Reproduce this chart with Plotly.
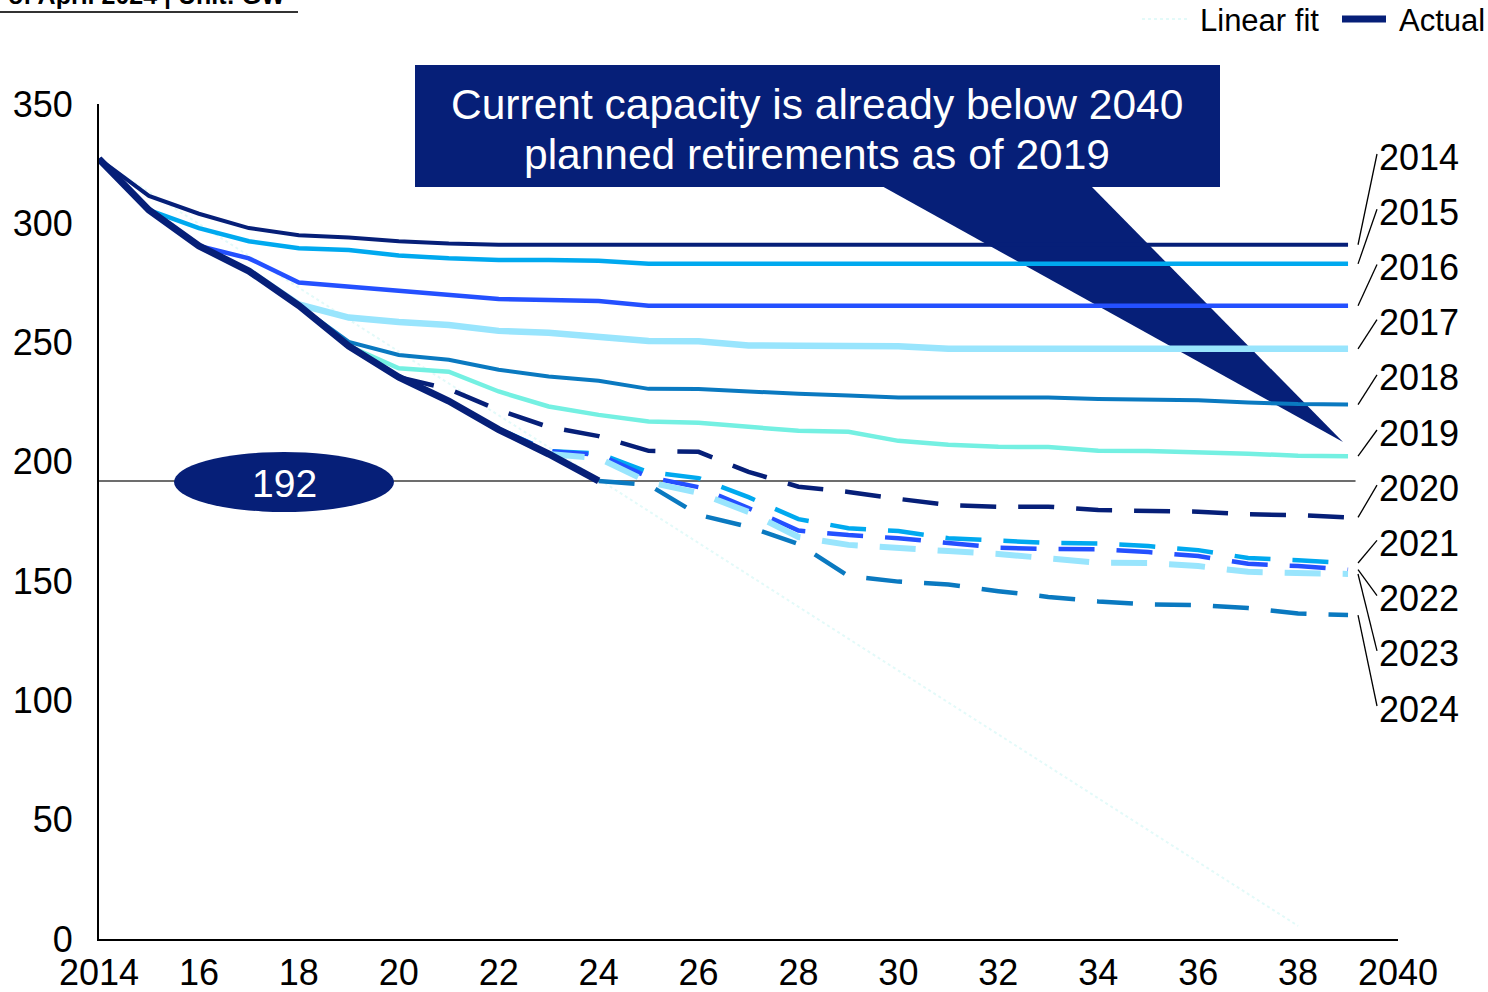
import plotly.graph_objects as go

# ---------------- data ----------------
actual_years = list(range(2014, 2025))
actual = [327, 305.5, 290.5, 280, 265.5, 248.5, 235.5, 225.5, 213.5, 203.3, 192]

fit_years = [2014, 2038]
fit_values = [326.5, 5.5]

plan_2014 = [327, 311.5, 304, 298, 295, 294, 292.5, 291.5, 291,
             291, 291, 291, 291, 291, 291, 291, 291, 291, 291, 291, 291, 291, 291, 291, 291, 291]
plan_2015 = [305.5, 298, 292.5, 289.5, 288.8, 286.5, 285.3, 284.6, 284.6, 284.3, 283,
             283, 283, 283, 283, 283, 283, 283, 283, 283, 283, 283, 283, 283, 283]
plan_2016 = [290.5, 285.3, 275.2, 273.4, 271.5, 270, 268.3, 267.8, 267.4, 265.4,
             265.4, 265.4, 265.4, 265.4, 265.4, 265.4, 265.4, 265.4, 265.4, 265.4, 265.4, 265.4, 265.4, 265.4]
plan_2017 = [280, 266, 260.5, 258.6, 257.4, 254.9, 254.1, 252.7, 250.7, 250.6, 248.8, 248.7, 248.6, 248.5,
             247.4, 247.4, 247.4, 247.4, 247.4, 247.4, 247.4, 247.4, 247.4]
plan_2018 = [265.5, 250.3, 244.8, 242.8, 238.6, 235.8, 234, 230.6, 230.5, 229.4, 228.5, 227.8,
             227, 227, 227, 227, 226.3, 226.2, 225.8, 224.9, 224.2, 224]
plan_2019 = [248.5, 239.2, 237.8, 229.5, 223.2, 219.7, 216.9, 216.4, 214.7, 213, 212.6, 208.8,
             207.2, 206.3, 206.2, 204.7, 204.6, 204.2, 203.4, 202.6, 202.4]
plan_2020 = [235.5, 230.5, 221.7, 214.6, 210.8, 204.6, 204.2, 195.8, 189.6, 187.4, 184.5, 181.9,
             181.2, 181.2, 179.8, 179.4, 179.1, 178, 177.7, 176.7]
plan_2021 = [225.5, 213.8, 204.5, 203.5, 195.7, 193.2, 185.2, 176, 172.2, 171, 168, 166.8,
             166, 165.8, 164.7, 163, 159.7, 158.8, 157.6]
plan_2022 = [213.5, 204.5, 203, 193.6, 189.4, 180.6, 171.2, 169.3, 168, 166, 164, 163.5,
             163.4, 162.2, 160.5, 157.3, 156.3, 154.8]
plan_2023 = [203.3, 201.6, 191.5, 187, 179, 168.5, 165.2, 163.6, 162.6, 161.4, 159.8, 157.7,
             157.6, 156.3, 153.9, 153.4, 153]
plan_2024 = [192, 190.4, 177.8, 172.8, 165.6, 152.1, 149.8, 148.6, 145.8, 143.4, 141.5, 140.2,
             140, 138.7, 136.4, 135.8]

plan_years = [2014, 2015, 2016, 2017, 2018, 2019, 2020, 2021, 2022, 2023, 2024]
plans = [plan_2014, plan_2015, plan_2016, plan_2017, plan_2018, plan_2019,
         plan_2020, plan_2021, plan_2022, plan_2023, plan_2024]
last_year = 2039

threshold = 192

x_tickvals = list(range(2014, 2041, 2))
x_ticktext = ["2014", "16", "18", "20", "22", "24", "26", "28", "30", "32", "34", "36", "38", "2040"]
y_tickvals = [0, 50, 100, 150, 200, 250, 300, 350]

# ---------------- styling ----------------
NAVY = "#061f78"
LIGHT = "#00a9ef"
BRIGHT = "#2450ff"
PALE = "#99e5fd"
MEDIUM = "#0a79c0"
AQUA = "#74f0e2"
FIT = "#e3faf9"

palette = [NAVY, LIGHT, BRIGHT, PALE, MEDIUM, AQUA]
widths = [4, 4.5, 4.5, 6.5, 4, 4.5]
FONT = "Arial, 'Liberation Sans', sans-serif"

W, H = 1488, 992
L, R, T, B = 99, 90, 104, 53
PW, PH = W - L - R, H - T - B
X0, X1 = 2014, 2040
Y0, Y1 = 0, 350


def px(x):
    return (x - L) / PW


def py(y):
    return (H - B - y) / PH


def dx(v):
    return (v - X0) / (X1 - X0)


def dy(v):
    return (v - Y0) / (Y1 - Y0)


fig = go.Figure()

# trend of the actual series, drawn underneath everything else
fig.add_trace(go.Scatter(
    x=fit_years, y=fit_values, mode="lines", name="Linear fit", showlegend=False,
    line=dict(color=FIT, width=2, dash="dot"), hoverinfo="skip"))

# planned-capacity vintages
for i, (start, vals) in enumerate(zip(plan_years, plans)):
    yrs = list(range(start, last_year + 1))
    solid = start < 2020
    color = palette[i % 6] if solid else palette[(i - 6) % 6]
    if solid:
        width = widths[i]
        dash = "solid"
    else:
        width = 6 if color == PALE else 4.5
        dash = "36px,22px"
    fig.add_trace(go.Scatter(
        x=yrs, y=vals, mode="lines", name=str(start), showlegend=False,
        line=dict(color=color, width=width, dash=dash), hoverinfo="skip"))

fig.add_trace(go.Scatter(
    x=actual_years, y=actual, mode="lines", name="Actual", showlegend=False,
    line=dict(color=NAVY, width=7)))

shapes = []
annotations = []

# reference line at the current level
shapes.append(dict(type="line", xref="x", yref="y", x0=X0, x1=2039.15, y0=threshold, y1=threshold,
                   line=dict(color="#3c3c3c", width=1.6), layer="below"))
# value badge
shapes.append(dict(type="circle", xref="paper", yref="paper",
                   x0=px(174), x1=px(394), y0=py(512), y1=py(452),
                   fillcolor=NAVY, line=dict(width=0), layer="above"))
annotations.append(dict(xref="paper", yref="paper", x=px(284), y=py(483), text=str(threshold),
                        showarrow=False, font=dict(size=39, color="white", family=FONT),
                        xanchor="center", yanchor="middle"))

# callout box with pointer
shapes.append(dict(type="rect", xref="paper", yref="paper",
                   x0=px(415), x1=px(1220), y0=py(187), y1=py(65),
                   fillcolor=NAVY, line=dict(width=0), layer="below"))
shapes.append(dict(type="path", xref="paper", yref="paper",
                   path=f"M {px(880)},{py(185)} L {px(1090)},{py(185)} L {px(1343)},{py(442)} Z",
                   fillcolor=NAVY, line=dict(width=0), layer="below"))
annotations.append(dict(xref="paper", yref="paper", x=px(817), y=py(104),
                        text="Current capacity is already below 2040",
                        showarrow=False, font=dict(size=42.5, color="white", family=FONT),
                        xanchor="center", yanchor="middle"))
annotations.append(dict(xref="paper", yref="paper", x=px(817), y=py(155),
                        text="planned retirements as of 2019",
                        showarrow=False, font=dict(size=42.5, color="white", family=FONT),
                        xanchor="center", yanchor="middle"))

# vintage labels with leader lines
label_top, label_step = 157, 55.2
for i, (start, vals) in enumerate(zip(plan_years, plans)):
    ly = label_top + i * label_step
    annotations.append(dict(xref="paper", yref="paper", x=px(1377), y=py(ly), text=str(start),
                            showarrow=False, font=dict(size=36, color="black", family=FONT),
                            xanchor="left", yanchor="middle"))
    shapes.append(dict(type="line", xref="paper", yref="paper",
                       x0=dx(2039.2), y0=dy(vals[-1]), x1=px(1377), y1=py(ly - 3),
                       line=dict(color="black", width=1.3), layer="above"))

# legend keys
legend_items = [("Linear fit", FIT, 2, "dot", 1142, 1187, 1198),
                ("Actual", NAVY, 7, "solid", 1342, 1386, 1397)]
for name, color, lw, dash, k0, k1, tx in legend_items:
    shapes.append(dict(type="line", xref="paper", yref="paper", x0=px(k0), x1=px(k1),
                       y0=py(19), y1=py(19), line=dict(color=color, width=lw, dash=dash)))
    annotations.append(dict(xref="paper", yref="paper", x=px(tx), y=py(20), text=name,
                            showarrow=False, font=dict(size=31, color="black", family=FONT),
                            xanchor="left", yanchor="middle"))

# header note and rule
annotations.append(dict(xref="paper", yref="paper", x=px(6), y=py(11),
                        text="<b>of April 2024 | Unit: GW</b>",
                        showarrow=False, font=dict(size=25, color="black", family=FONT),
                        xanchor="left", yanchor="bottom"))
shapes.append(dict(type="line", xref="paper", yref="paper", x0=px(0), x1=px(298), y0=py(12), y1=py(12),
                   line=dict(color="#333333", width=2)))

fig.update_layout(
    width=W, height=H,
    margin=dict(l=L, r=R, t=T, b=B, pad=0, autoexpand=False),
    paper_bgcolor="white", plot_bgcolor="rgba(0,0,0,0)",
    font=dict(family=FONT, color="black", size=36),
    shapes=shapes, annotations=annotations,
    showlegend=False,
    xaxis=dict(range=[X0, X1], tickvals=x_tickvals, ticktext=x_ticktext, showgrid=False,
               zeroline=False, showline=True, linecolor="black", linewidth=2, ticks="",
               automargin=False, ticklabelstandoff=1,
               tickfont=dict(size=36, color="black", family=FONT)),
    yaxis=dict(range=[Y0, Y1], tickvals=y_tickvals, showgrid=False, zeroline=False,
               showline=True, linecolor="black", linewidth=2, ticks="",
               automargin=False, ticklabelstandoff=17,
               tickfont=dict(size=36, color="black", family=FONT)),
)

fig.write_html("out.html")
